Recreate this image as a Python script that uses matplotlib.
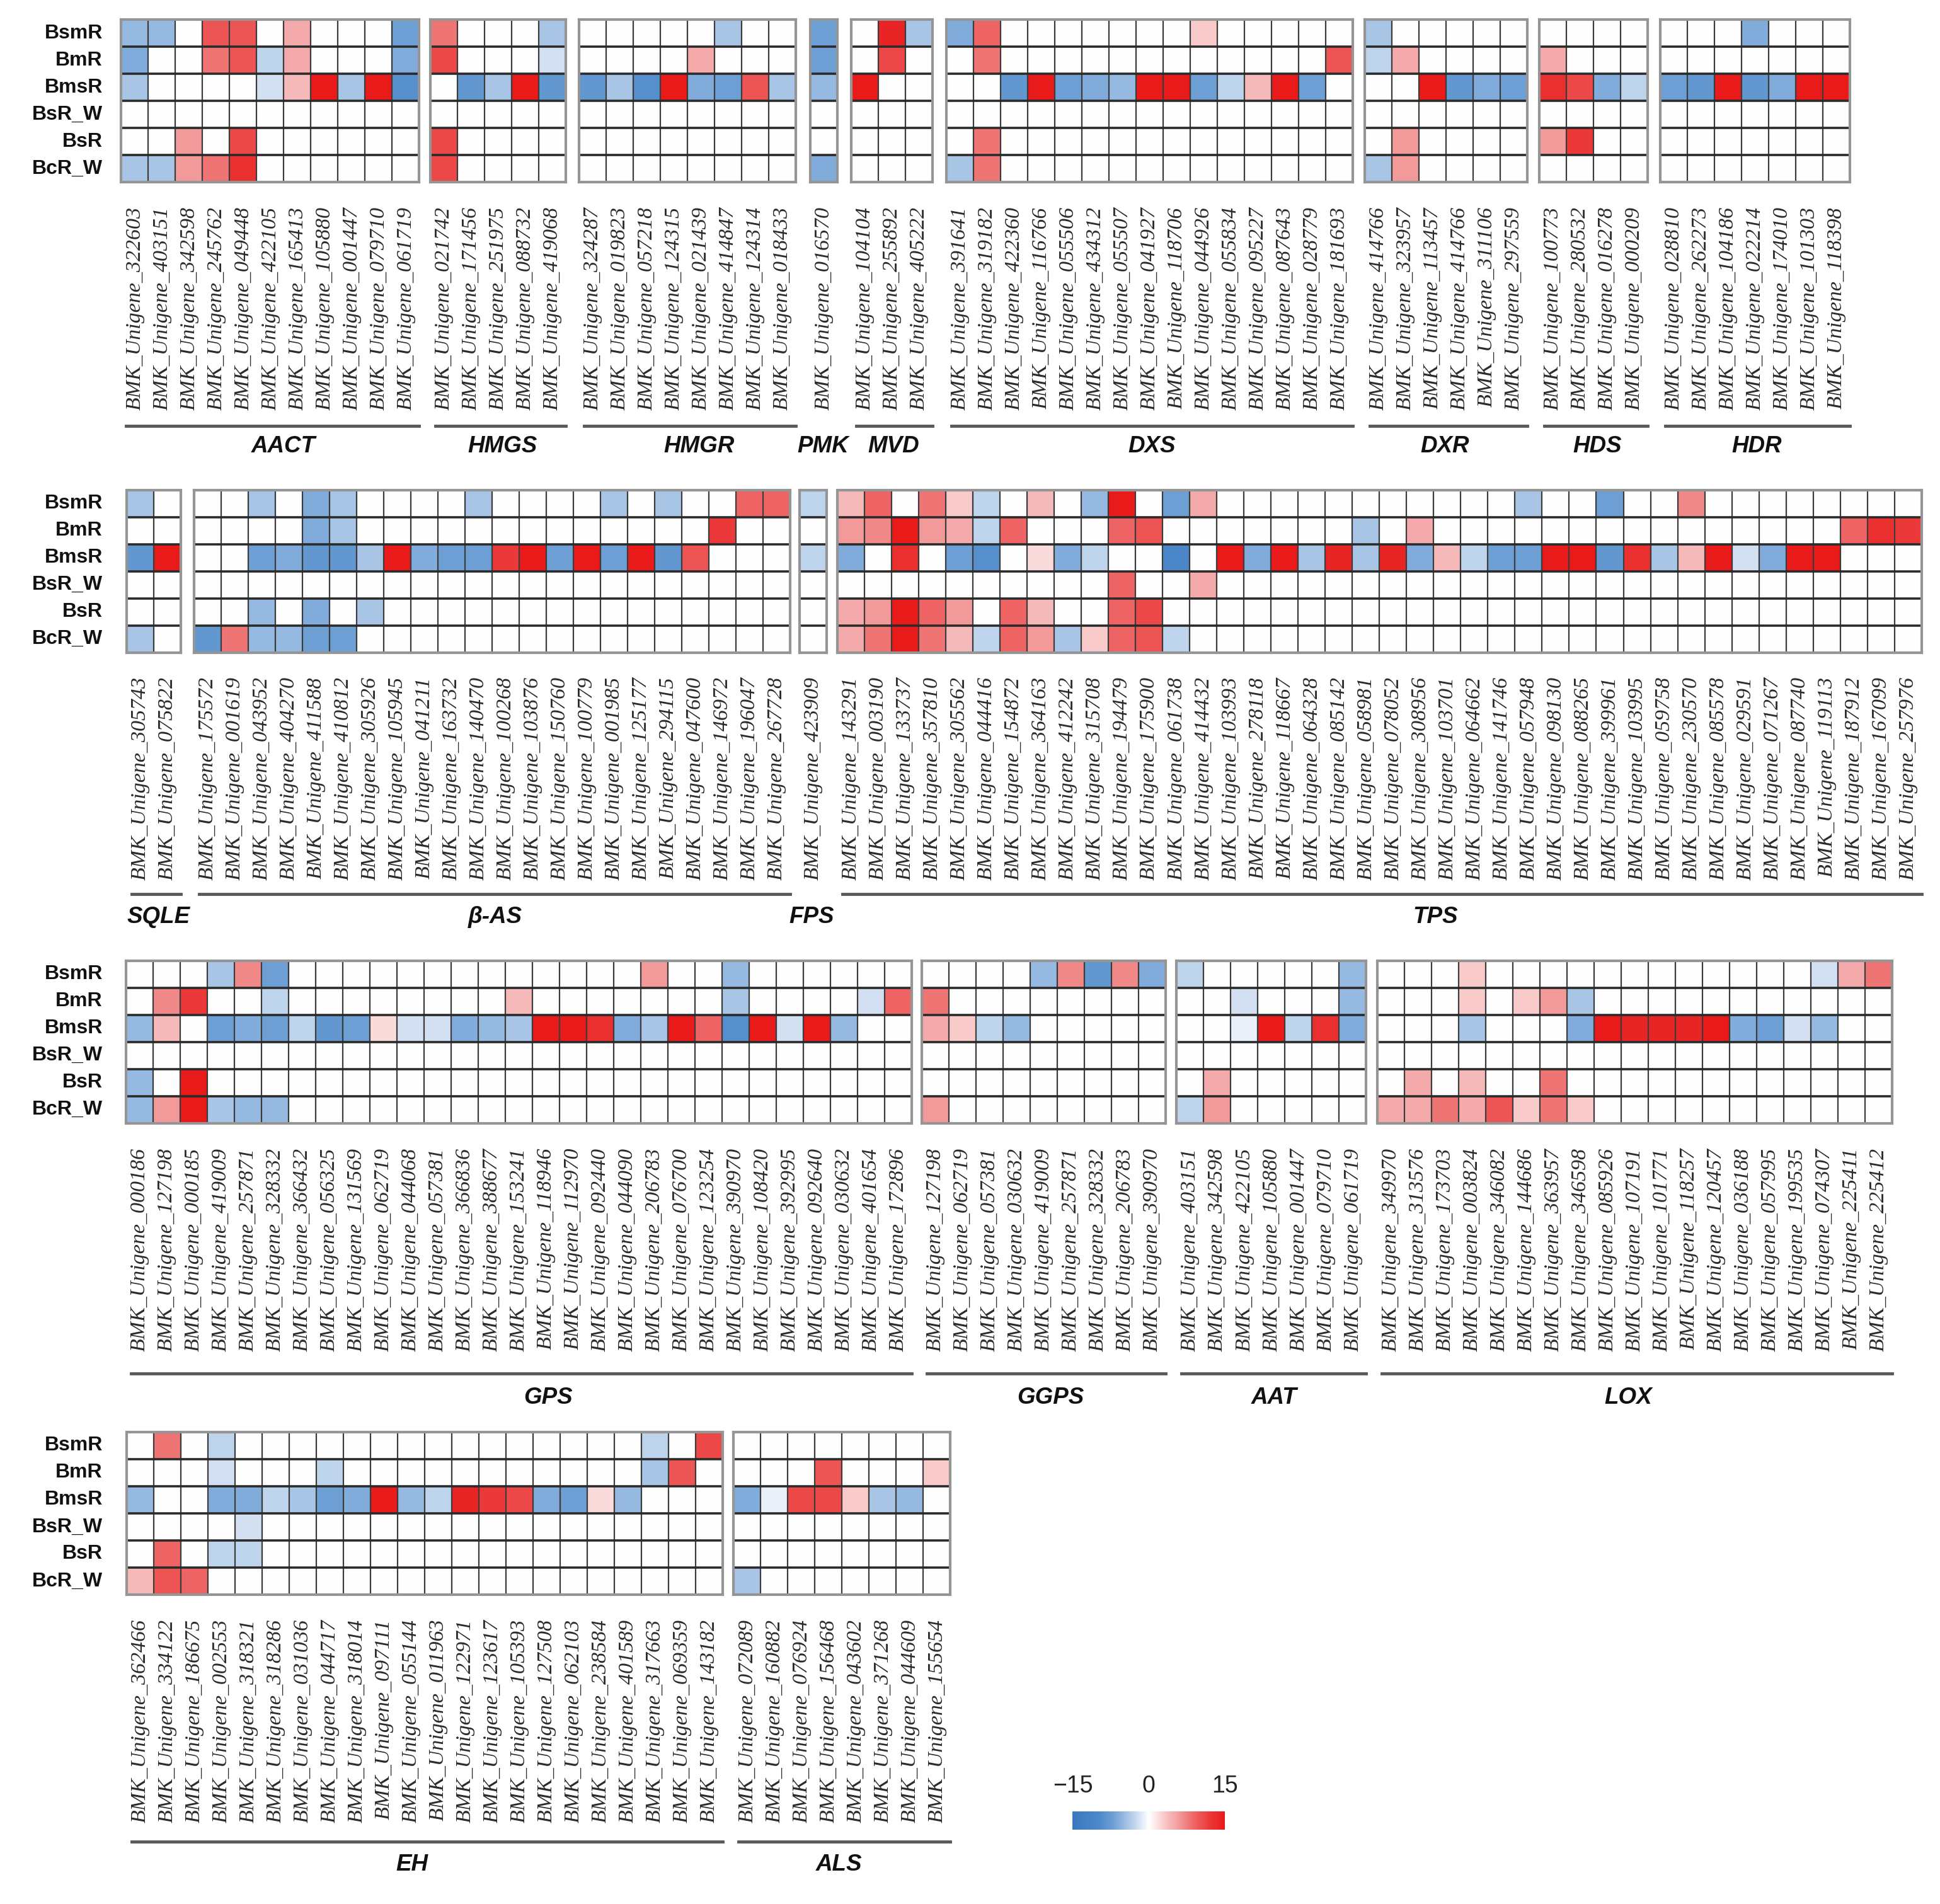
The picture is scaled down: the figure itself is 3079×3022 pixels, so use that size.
import matplotlib
matplotlib.use('Agg')
import matplotlib.pyplot as plt
import numpy as np
from matplotlib.colors import LinearSegmentedColormap, Normalize
from matplotlib.colorbar import ColorbarBase

## ---------------------------------------------------------------------
## data: rows are the samples, columns the unigenes of each family
SAMPLES = ['BsmR', 'BmR', 'BmsR', 'BsR_W', 'BsR', 'BcR_W']

AACT_IDS = ['322603', '403151', '342598', '245762', '049448', '422105',
            '165413', '105880', '001447', '079710', '061719']
AACT = [[-5, -5, 0, 10, 10, 0, 5, 0, 0, 0, -7],
        [-6, 0, 0, 8, 10, -3, 5, 0, 0, 0, -6],
        [-4, 0, 0, 0, 0, -2, 4, 15, -4, 15, -9],
        [0, 0, 0, 0, 0, 0, 0, 0, 0, 0, 0],
        [0, 0, 6, 0, 11, 0, 0, 0, 0, 0, 0],
        [-4, -4, 6, 8, 13, 0, 0, 0, 0, 0, 0]]

HMGS_IDS = ['021742', '171456', '251975', '088732', '419068']
HMGS = [[8, 0, 0, 0, -4],
        [11, 0, 0, 0, -2],
        [0, -8, -4, 15, -8],
        [0, 0, 0, 0, 0],
        [11, 0, 0, 0, 0],
        [11, 0, 0, 0, 0]]

HMGR_IDS = ['324287', '019823', '057218', '124315', '021439', '414847', '124314', '018433']
HMGR = [[0, 0, 0, 0, 0, -4, 0, 0],
        [0, 0, 0, 0, 5, 0, 0, 0],
        [-8, -4, -9, 15, -6, -7, 10, -4],
        [0, 0, 0, 0, 0, 0, 0, 0],
        [0, 0, 0, 0, 0, 0, 0, 0],
        [0, 0, 0, 0, 0, 0, 0, 0]]

PMK_IDS = ['016570']
PMK = [[-7], [-7], [-5], [0], [0], [-6]]

MVD_IDS = ['104104', '255892', '405222']
MVD = [[0, 14, -4],
       [0, 11, 0],
       [15, 0, 0],
       [0, 0, 0],
       [0, 0, 0],
       [0, 0, 0]]

DXS_IDS = ['391641', '319182', '422360', '116766', '055506', '434312', '055507', '041927',
           '118706', '044926', '055834', '095227', '087643', '028779', '181693']
DXS = [[-6, 9, 0, 0, 0, 0, 0, 0, 0, 3, 0, 0, 0, 0, 0],
       [0, 8, 0, 0, 0, 0, 0, 0, 0, 0, 0, 0, 0, 0, 10],
       [0, 0, -8, 15, -7, -6, -5, 15, 15, -7, -3, 4, 15, -7, 0],
       [0, 0, 0, 0, 0, 0, 0, 0, 0, 0, 0, 0, 0, 0, 0],
       [0, 8, 0, 0, 0, 0, 0, 0, 0, 0, 0, 0, 0, 0, 0],
       [-4, 8, 0, 0, 0, 0, 0, 0, 0, 0, 0, 0, 0, 0, 0]]

DXR_IDS = ['414766', '323957', '113457', '414766', '311106', '297559']
DXR = [[-4, 0, 0, 0, 0, 0],
       [-3, 5, 0, 0, 0, 0],
       [0, 0, 15, -8, -6, -7],
       [0, 0, 0, 0, 0, 0],
       [0, 6, 0, 0, 0, 0],
       [-4, 6, 0, 0, 0, 0]]

HDS_IDS = ['100773', '280532', '016278', '000209']
HDS = [[0, 0, 0, 0],
       [5, 0, 0, 0],
       [13, 11, -6, -3],
       [0, 0, 0, 0],
       [6, 12, 0, 0],
       [0, 0, 0, 0]]

HDR_IDS = ['028810', '262273', '104186', '022214', '174010', '101303', '118398']
HDR = [[0, 0, 0, -6, 0, 0, 0],
       [0, 0, 0, 0, 0, 0, 0],
       [-7, -8, 15, -8, -6, 15, 15],
       [0, 0, 0, 0, 0, 0, 0],
       [0, 0, 0, 0, 0, 0, 0],
       [0, 0, 0, 0, 0, 0, 0]]

## row 2
SQLE_IDS = ['305743', '075822']
SQLE = [[-4, 0], [0, 0], [-8, 15], [0, 0], [0, 0], [-4, 0]]

BAS_IDS = ['175572', '001619', '043952', '404270', '411588', '410812', '305926', '105945',
           '041211', '163732', '140470', '100268', '103876', '150760', '100779', '001985',
           '125177', '294115', '047600', '146972', '196047', '267728']
BAS = [[0, 0, -4, 0, -6, -4, 0, 0, 0, 0, -4, 0, 0, 0, 0, -4, 0, -4, 0, 0, 9, 9],
       [0, 0, 0, 0, -6, -4, 0, 0, 0, 0, 0, 0, 0, 0, 0, 0, 0, 0, 0, 12, 0, 0],
       [0, 0, -7, -6, -8, -8, -4, 15, -6, -7, -7, 12, 15, -7, 15, -7, 15, -8, 10, 0, 0, 0],
       [0, 0, 0, 0, 0, 0, 0, 0, 0, 0, 0, 0, 0, 0, 0, 0, 0, 0, 0, 0, 0, 0],
       [0, 0, -5, 0, -6, 0, -4, 0, 0, 0, 0, 0, 0, 0, 0, 0, 0, 0, 0, 0, 0, 0],
       [-8, 8, -5, -5, -7, -7, 0, 0, 0, 0, 0, 0, 0, 0, 0, 0, 0, 0, 0, 0, 0, 0]]

FPS_IDS = ['423909']
FPS = [[-3], [0], [-3], [0], [0], [0]]

TPS_IDS = ['143291', '003190', '133737', '357810', '305562', '044416', '154872', '364163',
           '412242', '315708', '194479', '175900', '061738', '414432', '103993', '278118',
           '118667', '064328', '085142', '058981', '078052', '308956', '103701', '064662',
           '141746', '057948', '098130', '088265', '399961', '103995', '059758', '230570',
           '085578', '029591', '071267', '087740', '119113', '187912', '167099', '257976']
TPS = [[4, 9, 0, 8, 3, -3, 0, 4, 0, -5, 15, 0, -7, 5, 0, 0, 0, 0, 0, 0,
        0, 0, 0, 0, 0, -4, 0, 0, -7, 0, 0, 7, 0, 0, 0, 0, 0, 0, 0, 0],
       [6, 7, 15, 6, 5, -3, 9, 0, 0, 0, 9, 10, 0, 0, 0, 0, 0, 0, 0, -4,
        0, 5, 0, 0, 0, 0, 0, 0, 0, 0, 0, 0, 0, 0, 0, 0, 0, 9, 13, 12],
       [-6, 0, 13, 0, -7, -9, 0, 2, -6, -3, 0, 0, -10, 0, 15, -6, 15, -4, 14, -4,
        14, -6, 4, -3, -7, -7, 15, 15, -8, 13, -4, 4, 15, -2, -6, 15, 15, 0, 0, 0],
       [0, 0, 0, 0, 0, 0, 0, 0, 0, 0, 9, 0, 0, 5, 0, 0, 0, 0, 0, 0,
        0, 0, 0, 0, 0, 0, 0, 0, 0, 0, 0, 0, 0, 0, 0, 0, 0, 0, 0, 0],
       [5, 6, 15, 9, 6, 0, 9, 4, 0, 0, 9, 11, 0, 0, 0, 0, 0, 0, 0, 0,
        0, 0, 0, 0, 0, 0, 0, 0, 0, 0, 0, 0, 0, 0, 0, 0, 0, 0, 0, 0],
       [5, 8, 15, 8, 4, -3, 9, 6, -4, 3, 9, 10, -3, 0, 0, 0, 0, 0, 0, 0,
        0, 0, 0, 0, 0, 0, 0, 0, 0, 0, 0, 0, 0, 0, 0, 0, 0, 0, 0, 0]]

## row 3
GPS_IDS = ['000186', '127198', '000185', '419009', '257871', '328332', '366432', '056325',
           '131569', '062719', '044068', '057381', '366836', '388677', '153241', '118946',
           '112970', '092440', '044090', '206783', '076700', '123254', '390970', '108420',
           '392995', '092640', '030632', '401654', '172896']
GPS = [[0, 0, 0, -4, 7, -7, 0, 0, 0, 0, 0, 0, 0, 0, 0, 0, 0, 0, 0, 6, 0, 0, -5, 0, 0, 0, 0, 0, 0],
       [0, 7, 12, 0, 0, -3, 0, 0, 0, 0, 0, 0, 0, 0, 4, 0, 0, 0, 0, 0, 0, 0, -4, 0, 0, 0, 0, -2, 9],
       [-5, 4, 0, -7, -6, -7, -3, -8, -7, 2, -2, -2, -6, -5, -4, 15, 15, 13, -6, -4, 15, 9, -9, 15, -2, 15, -5, 0, 0],
       [0, 0, 0, 0, 0, 0, 0, 0, 0, 0, 0, 0, 0, 0, 0, 0, 0, 0, 0, 0, 0, 0, 0, 0, 0, 0, 0, 0, 0],
       [-5, 0, 15, 0, 0, 0, 0, 0, 0, 0, 0, 0, 0, 0, 0, 0, 0, 0, 0, 0, 0, 0, 0, 0, 0, 0, 0, 0, 0],
       [-5, 6, 15, -4, -5, -5, 0, 0, 0, 0, 0, 0, 0, 0, 0, 0, 0, 0, 0, 0, 0, 0, 0, 0, 0, 0, 0, 0, 0]]

GGPS_IDS = ['127198', '062719', '057381', '030632', '419009', '257871', '328332', '206783', '390970']
GGPS = [[0, 0, 0, 0, -5, 7, -8, 7, -6],
        [8, 0, 0, 0, 0, 0, 0, 0, 0],
        [5, 3, -3, -5, 0, 0, 0, 0, 0],
        [0, 0, 0, 0, 0, 0, 0, 0, 0],
        [0, 0, 0, 0, 0, 0, 0, 0, 0],
        [6, 0, 0, 0, 0, 0, 0, 0, 0]]

AAT_IDS = ['403151', '342598', '422105', '105880', '001447', '079710', '061719']
AAT = [[-3, 0, 0, 0, 0, 0, -5],
       [0, 0, -2, 0, 0, 0, -5],
       [0, 0, -1, 15, -3, 13, -6],
       [0, 0, 0, 0, 0, 0, 0],
       [0, 5, 0, 0, 0, 0, 0],
       [-3, 6, 0, 0, 0, 0, 0]]

LOX_IDS = ['349970', '313576', '173703', '003824', '346082', '144686', '363957', '346598',
           '085926', '107191', '101771', '118257', '120457', '036188', '057995', '199535',
           '074307', '225411', '225412']
LOX = [[0, 0, 0, 3, 0, 0, 0, 0, 0, 0, 0, 0, 0, 0, 0, 0, -2, 5, 8],
       [0, 0, 0, 3, 0, 3, 6, -4, 0, 0, 0, 0, 0, 0, 0, 0, 0, 0, 0],
       [0, 0, 0, -4, 0, 0, 0, -6, 15, 14, 14, 14, 15, -6, -7, -2, -5, 0, 0],
       [0, 0, 0, 0, 0, 0, 0, 0, 0, 0, 0, 0, 0, 0, 0, 0, 0, 0, 0],
       [0, 5, 0, 4, 0, 0, 8, 0, 0, 0, 0, 0, 0, 0, 0, 0, 0, 0, 0],
       [5, 5, 8, 5, 10, 3, 8, 3, 0, 0, 0, 0, 0, 0, 0, 0, 0, 0, 0]]

## row 4
EH_IDS = ['362466', '334122', '186675', '002553', '318321', '318286', '031036', '044717',
          '318014', '097111', '055144', '011963', '122971', '123617', '105393', '127508',
          '062103', '238584', '401589', '317663', '069359', '143182']
EH = [[0, 8, 0, -3, 0, 0, 0, 0, 0, 0, 0, 0, 0, 0, 0, 0, 0, 0, 0, -3, 0, 11],
      [0, 0, 0, -2, 0, 0, 0, -3, 0, 0, 0, 0, 0, 0, 0, 0, 0, 0, 0, -4, 10, 0],
      [-5, 0, 0, -6, -6, -3, -4, -7, -6, 15, -5, -3, 14, 12, 11, -6, -7, 2, -5, 0, 0, 0],
      [0, 0, 0, 0, -2, 0, 0, 0, 0, 0, 0, 0, 0, 0, 0, 0, 0, 0, 0, 0, 0, 0],
      [0, 9, 0, -3, -3, 0, 0, 0, 0, 0, 0, 0, 0, 0, 0, 0, 0, 0, 0, 0, 0, 0],
      [4, 10, 9, 0, 0, 0, 0, 0, 0, 0, 0, 0, 0, 0, 0, 0, 0, 0, 0, 0, 0, 0]]

ALS_IDS = ['072089', '160882', '076924', '156468', '043602', '371268', '044609', '155654']
ALS = [[0, 0, 0, 0, 0, 0, 0, 0],
       [0, 0, 0, 10, 0, 0, 0, 3],
       [-6, -1, 11, 11, 3, -4, -5, 0],
       [0, 0, 0, 0, 0, 0, 0, 0],
       [0, 0, 0, 0, 0, 0, 0, 0],
       [-4, 0, 0, 0, 0, 0, 0, 0]]

ROWS = [
    [('AACT', AACT_IDS, AACT), ('HMGS', HMGS_IDS, HMGS), ('HMGR', HMGR_IDS, HMGR),
     ('PMK', PMK_IDS, PMK), ('MVD', MVD_IDS, MVD), ('DXS', DXS_IDS, DXS),
     ('DXR', DXR_IDS, DXR), ('HDS', HDS_IDS, HDS), ('HDR', HDR_IDS, HDR)],
    [('SQLE', SQLE_IDS, SQLE), ('β-AS', BAS_IDS, BAS), ('FPS', FPS_IDS, FPS), ('TPS', TPS_IDS, TPS)],
    [('GPS', GPS_IDS, GPS), ('GGPS', GGPS_IDS, GGPS), ('AAT', AAT_IDS, AAT), ('LOX', LOX_IDS, LOX)],
    [('EH', EH_IDS, EH), ('ALS', ALS_IDS, ALS)],
]

## ---------------------------------------------------------------------
## layout (in px of a 1568x1539 picture)
W, H = 1568.0, 1539.0
CELL = 21.9
ROW_TOP = [16, 396, 776.5, 1157.5]
LINE_Y = [344.5, 722.5, 1110, 1488.5]
NAME_Y = [361, 741, 1130, 1507]
PANEL_X = [[98, 348, 468, 655, 688, 765, 1103, 1244, 1342],
           [102.5, 157, 646, 677],
           [102, 745, 951, 1113],
           [102.5, 593]]
LABEL_X = [[229, 406, 565, 665, 722, 931, 1168, 1291, 1420],
           [128, 400, 656, 1160],
           [443, 849, 1030, 1316],
           [333, 678]]

cmap = LinearSegmentedColormap.from_list('bwr_heat', [
    (0.0, '#3b78c0'), (5/30., '#4b87c8'), (8/30., '#6e9fd4'), (11/30., '#a9c6e6'),
    (13/30., '#d3e1f2'), (0.5, '#ffffff'), (18/30., '#f8caca'), (21/30., '#f29a9a'),
    (24/30., '#ee6464'), (27/30., '#eb3a3a'), (1.0, '#e81a1a')])
norm = Normalize(vmin=-15, vmax=15)

fig = plt.figure(figsize=(30.79, 30.22), dpi=100)

def fx(x):
    return x / W

def fy(y):
    return 1 - y / H

def draw_panel(ax, ids, vals):
    data = np.array(vals, dtype=float)
    nr, nc = data.shape
    ax.pcolormesh(np.arange(nc + 1), np.arange(nr + 1), data, cmap=cmap, norm=norm)
    ax.set_xlim(0, nc)
    ax.set_ylim(nr, 0)
    for i in range(1, nc):
        ax.axvline(i, color='#3c3c3c', lw=1.6)
    for j in range(1, nr):
        ax.axhline(j, color='#2a2a2a', lw=2.6)
    for s in ax.spines.values():
        s.set_color('#959595')
        s.set_linewidth(3)
    ax.set_yticks([])
    ax.set_xticks(np.arange(nc) + 0.5)
    ax.set_xticklabels(['BMK_Unigene_' + g for g in ids], rotation=90,
                       fontsize=24.5, family='Liberation Serif', style='italic',
                       color='#2a2a2a')
    ax.tick_params(axis='x', length=0, pad=28)

for r, panels in enumerate(ROWS):
    top = ROW_TOP[r]
    bottom = top + 6 * CELL
    yline = LINE_Y[r]
    for p, (name, ids, vals) in enumerate(panels):
        x0 = PANEL_X[r][p]
        wid = len(ids) * CELL
        ax = fig.add_axes([fx(x0), fy(bottom), wid / W, 6 * CELL / H])
        draw_panel(ax, ids, vals)
        if len(ids) > 1:
            fig.add_artist(plt.Line2D([fx(x0 + 4), fx(x0 + wid)], [fy(yline), fy(yline)],
                                      transform=fig.transFigure, color='#5a5a5a', lw=3.5))
        fig.text(fx(LABEL_X[r][p]), fy(NAME_Y[r]), name, ha='center', va='center',
                 fontsize=26.5, fontweight='bold', style='italic', family='Liberation Sans',
                 color='#111111')
    ## sample names
    for k, s in enumerate(SAMPLES):
        fig.text(fx(83), fy(top + (k + 0.5) * CELL), s, ha='right', va='center',
                 fontsize=23, fontweight='bold', family='Liberation Sans', color='#111111')

## ---------------------------------------------------------------------
## colour key
cax = fig.add_axes([fx(867), fy(1479), 123 / W, 15 / H])
cb = ColorbarBase(cax, cmap=cmap, norm=norm, orientation='horizontal', ticks=[-15, 0, 15])
cb.outline.set_visible(False)
cax.xaxis.set_ticks_position('top')
cax.set_xticklabels(['\u221215', '0', '15'], fontsize=27, family='Liberation Sans', color='#222222')
cax.tick_params(length=0, pad=16)

fig.savefig('out.png', dpi=100)
